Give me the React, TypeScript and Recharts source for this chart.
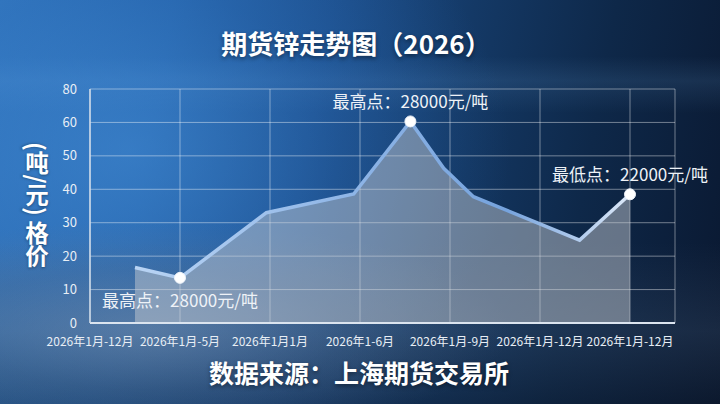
import React from "react";
import {
  ComposedChart,
  Area,
  Line,
  XAxis,
  YAxis,
  CartesianGrid,
  ReferenceDot,
  Label,
} from "recharts";

const categories = [
  "2026年1月-12月",
  "2026年1月-5月",
  "2026年1月1月",
  "2026年1-6月",
  "2026年1月-9月",
  "2026年1月-12月",
  "2026年1月-12月",
];
const categoryTicks = [0, 1, 2, 3, 4, 5, 6];
const pointPositions = [0.5, 1, 1.96, 2.93, 3.56, 3.93, 4.26, 5.44, 6];
const priceValues = [16.6, 13.5, 33.0, 38.6, 60.3, 46.3, 37.8, 24.8, 38.5];
const yTicks = [0, 10, 20, 30, 40, 50, 60, 70];
const yTickLabels = ["0", "10", "20", "30", "40", "50", "60", "80"];
const markerIndices = [1, 4, 8];
const markerLabels = ["最高点：28000元/吨", "最高点：28000元/吨", "最低点：22000元/吨"];
const markerSides = ["bottom", "top", "top"];

const title = "期货锌走势图（2026）";
const yTitle = "(吨/元) 格价";
const footer = "数据来源：上海期货交易所";

const data = pointPositions.map((x, i) => ({ x, price: priceValues[i] }));

const FONT = '"Noto Sans CJK SC", "Noto Sans", sans-serif';

export default function App() {
  return (
    <div
      style={{
        position: "absolute",
        left: 0,
        top: 0,
        width: 720,
        height: 404,
        overflow: "hidden",
        fontFamily: FONT,
        background:
          "radial-gradient(ellipse 360px 110px at 150px 330px, rgba(125,145,170,0.5) 0%, rgba(100,120,145,0.25) 55%, rgba(0,0,0,0) 100%)," +
          "linear-gradient(180deg, rgba(0,0,0,0) 0%, rgba(0,0,0,0) 60%, rgba(70,90,115,0.25) 82%, rgba(15,25,40,0.35) 100%)," +
          "radial-gradient(ellipse 380px 300px at 130px 150px, rgba(70,145,220,0.5) 0%, rgba(50,120,200,0.25) 55%, rgba(0,0,0,0) 100%)," +
          "linear-gradient(180deg, rgba(120,180,235,0) 14%, rgba(120,180,235,0.12) 20%, rgba(120,180,235,0) 28%)," +
          "linear-gradient(100deg, #3174bb 0%, #2664aa 22%, #1c4e8b 42%, #143966 60%, #0e2849 78%, #0a1830 100%)",
      }}
    >
      <div
        style={{
          position: "absolute",
          left: 0,
          top: 25,
          width: 712,
          textAlign: "center",
          color: "#ffffff",
          fontWeight: 700,
          fontSize: 26,
          lineHeight: "36px",
          textShadow: "0 2px 4px rgba(0,0,0,0.45)",
        }}
      >
        {title}
      </div>
      <div
        style={{
          position: "absolute",
          left: 0,
          top: 355,
          width: 718,
          textAlign: "center",
          color: "#ffffff",
          fontWeight: 700,
          fontSize: 25,
          lineHeight: "34px",
          textShadow: "0 2px 4px rgba(0,0,0,0.45)",
        }}
      >
        {footer}
      </div>
      <div
        style={{
          position: "absolute",
          left: 23,
          top: 142,
          writingMode: "vertical-rl",
          fontSize: 23.5,
          lineHeight: "27px",
          fontWeight: 700,
          color: "#ffffff",
          whiteSpace: "nowrap",
          textShadow: "0 1px 3px rgba(0,0,0,0.4)",
        }}
      >
        {yTitle}
      </div>
      <div style={{ position: "absolute", left: 0, top: 0 }}>
        <ComposedChart
          width={720}
          height={404}
          data={data}
          margin={{ top: 89, right: 45, bottom: 51, left: 0 }}
        >
          <defs>
            <linearGradient id="lineGrad" x1="0" y1="0" x2="1" y2="0">
              <stop offset="0%" stopColor="#b9d4f4" />
              <stop offset="45%" stopColor="#8db4e6" />
              <stop offset="75%" stopColor="#76a3dd" />
              <stop offset="100%" stopColor="#dce8f8" />
            </linearGradient>
          </defs>
          <CartesianGrid stroke="rgba(255,255,255,0.42)" strokeWidth={1} />
          <XAxis
            dataKey="x"
            type="number"
            domain={[0, 6.5]}
            ticks={categoryTicks}
            interval={0}
            height={30}
            tickLine={false}
            tickMargin={8}
            axisLine={{ stroke: "#dbe4ef", strokeWidth: 2 }}
            tick={{ fill: "#e8eef5", fontSize: 12 }}
            tickFormatter={(v: number) => categories[v]}
          />
          <YAxis
            type="number"
            domain={[0, 70]}
            ticks={yTicks}
            interval={0}
            width={90}
            tickLine={false}
            tickMargin={7}
            axisLine={{ stroke: "#cfdbe9", strokeWidth: 1.5 }}
            tick={{ fill: "#e8eef5", fontSize: 13 }}
            tickFormatter={(v: number) => yTickLabels[yTicks.indexOf(v)]}
          />
          <Area
            type="linear"
            dataKey="price"
            stroke="none"
            fill="rgba(200,204,212,0.48)"
            fillOpacity={1}
            isAnimationActive={false}
            dot={false}
            activeDot={false}
          />
          <Line
            type="linear"
            dataKey="price"
            stroke="url(#lineGrad)"
            strokeWidth={3.5}
            dot={false}
            activeDot={false}
            isAnimationActive={false}
          />
          {markerIndices.map((idx, i) => (
            <ReferenceDot
              key={i}
              x={pointPositions[idx]}
              y={priceValues[idx]}
              r={5.5}
              fill="#ffffff"
              stroke="#eef3fa"
              strokeWidth={1}
            >
              <Label
                value={markerLabels[i]}
                position={markerSides[i] as any}
                offset={markerSides[i] === "top" ? 8 : 12}
                fill="#eef2f7"
                fontSize={17}
              />
            </ReferenceDot>
          ))}
        </ComposedChart>
      </div>
    </div>
  );
}
